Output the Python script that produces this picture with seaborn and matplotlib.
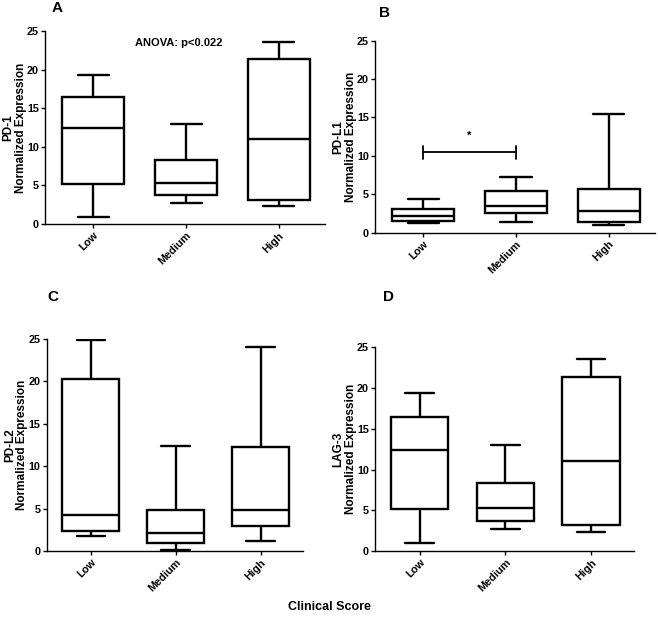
import numpy as np
import pandas as pd
import seaborn as sns
import matplotlib.pyplot as plt

groups = ["Low", "Medium", "High"]

# five-number summaries: min, q1, median, q3, max
pd1_low = [0.95, 5.2, 12.4, 16.4, 19.35]
pd1_med = [2.7, 3.7, 5.25, 8.3, 13.0]
pd1_high = [2.3, 3.15, 11.0, 21.4, 23.6]

pdl1_low = [1.3, 1.55, 2.15, 3.05, 4.45]
pdl1_med = [1.35, 2.6, 3.5, 5.45, 7.2]
pdl1_high = [0.95, 1.45, 2.85, 5.7, 15.5]

pdl2_low = [1.8, 2.3, 4.3, 20.25, 24.9]
pdl2_med = [0.1, 1.0, 2.1, 4.8, 12.4]
pdl2_high = [1.15, 3.0, 4.8, 12.3, 24.1]

lag3_low = [0.95, 5.2, 12.4, 16.4, 19.35]
lag3_med = [2.7, 3.7, 5.25, 8.3, 13.0]
lag3_high = [2.3, 3.15, 11.0, 21.4, 23.6]

panel_letters = ["A", "B", "C", "D"]
markers = ["PD-1", "PD-L1", "PD-L2", "LAG-3"]
yticks = [0, 5, 10, 15, 20, 25]

anova_text = "ANOVA: p<0.022"
anova_pos = (0.92, 23.4)
sig_pair = (0, 1)   # Low vs Medium in panel B
sig_y = 10.5
sig_star_y = 12.6


def make_df(low, med, high):
    # 5 values per group -> quartiles land exactly on the summary values
    rows = []
    for g, vals in zip(groups, [low, med, high]):
        for v in vals:
            rows.append({"group": g, "value": v})
    return pd.DataFrame(rows)


data = [make_df(pd1_low, pd1_med, pd1_high),
        make_df(pdl1_low, pdl1_med, pdl1_high),
        make_df(pdl2_low, pdl2_med, pdl2_high),
        make_df(lag3_low, lag3_med, lag3_high)]

sns.set_style("ticks")
plt.rcParams['font.family'] = ['Liberation Sans', 'DejaVu Sans']
plt.rcParams['font.weight'] = 'bold'
plt.rcParams['axes.labelweight'] = 'bold'
plt.rcParams['text.color'] = 'black'
plt.rcParams['axes.labelcolor'] = 'black'
plt.rcParams['axes.edgecolor'] = 'black'
plt.rcParams['xtick.color'] = 'black'
plt.rcParams['ytick.color'] = 'black'

fig = plt.figure(figsize=(6.58, 6.2), dpi=100)

# axes rectangles [left, bottom, width, height] in figure fraction
rects = [[0.0684, 0.6387, 0.426, 0.3113],
         [0.570, 0.6247, 0.4255, 0.3097],
         [0.071, 0.1113, 0.3895, 0.342],
         [0.570, 0.1113, 0.3935, 0.3285]]
letter_pos = [(0.087, 0.987), (0.585, 0.979), (0.080, 0.521), (0.590, 0.521)]

for i in range(4):
    ax = fig.add_axes(rects[i])
    sns.boxplot(data=data[i], x="group", y="value", order=groups,
                whis=(0, 100), width=0.67, color="white", saturation=1,
                linecolor="black", linewidth=1.7, showfliers=False, ax=ax)
    ax.set_xlim(-0.52, 2.5)
    ax.set_ylim(0, 25)
    ax.set_yticks(yticks)
    ax.set_xlabel("")
    ax.set_ylabel(markers[i] + "\nNormalized Expression", fontsize=8.5,
                  fontweight="bold", linespacing=1.05, labelpad=0)
    sns.despine(ax=ax)
    for s in ["left", "bottom"]:
        ax.spines[s].set_linewidth(1.0)
    ax.tick_params(direction="out", length=3, width=1, labelsize=7.8, pad=1.5)
    for lab in ax.get_xticklabels():
        lab.set_rotation(45)
        lab.set_ha("right")
        lab.set_rotation_mode("anchor")
        lab.set_fontweight("bold")
    for lab in ax.get_yticklabels():
        lab.set_fontweight("bold")
    fig.text(letter_pos[i][0], letter_pos[i][1], panel_letters[i],
             fontsize=11, fontweight="bold", ha="center", va="center")

    if i == 0:
        ax.text(anova_pos[0], anova_pos[1], anova_text, fontsize=8,
                fontweight="bold", ha="center", va="center")
    if i == 1:
        x0, x1 = sig_pair
        ax.plot([x0, x1], [sig_y, sig_y], color="black", lw=1.3)
        ax.plot([x0, x0], [sig_y - 0.85, sig_y + 0.85], color="black", lw=1.3)
        ax.plot([x1, x1], [sig_y - 0.85, sig_y + 0.85], color="black", lw=1.3)
        ax.text((x0 + x1) / 2, sig_star_y, "*", fontsize=8,
                fontweight="bold", ha="center", va="center")

fig.text(0.5, 0.021, "Clinical Score", fontsize=9, fontweight="bold",
         ha="center", va="center")

fig.savefig("out.png", dpi=100)
